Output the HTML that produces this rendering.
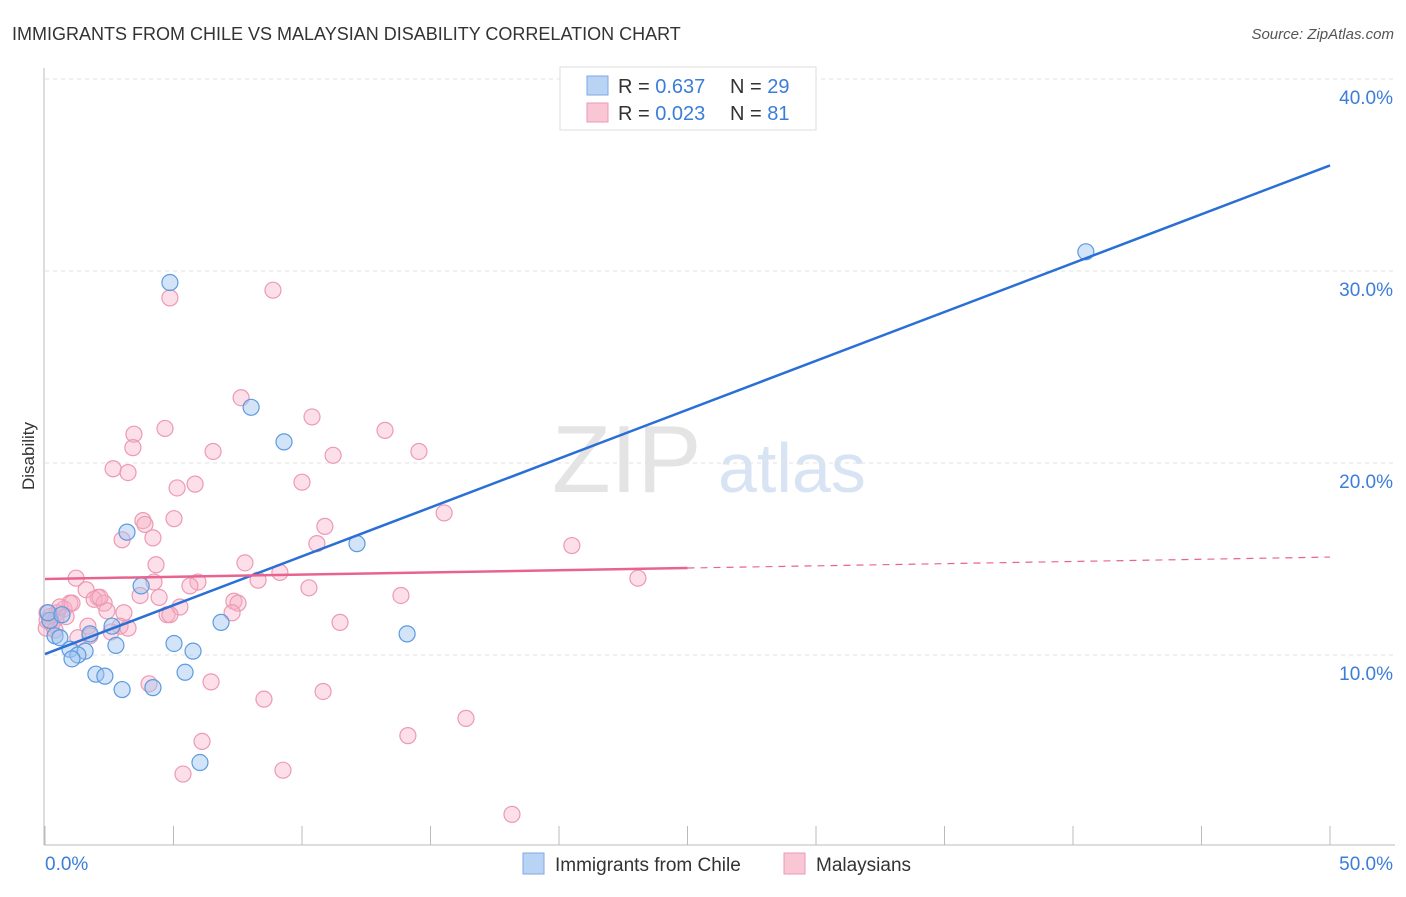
<!DOCTYPE html>
<html><head><meta charset="utf-8"><style>
body{margin:0;background:#fff;font-family:"Liberation Sans",sans-serif;}
svg text{font-family:"Liberation Sans",sans-serif;}
</style></head><body>
<svg id="chart" width="1406" height="892" xmlns="http://www.w3.org/2000/svg">
<text x="12" y="40" font-size="18" fill="#333">IMMIGRANTS FROM CHILE VS MALAYSIAN DISABILITY CORRELATION CHART</text>
<text x="1394" y="39" font-size="15" fill="#555" text-anchor="end" font-style="italic">Source: ZipAtlas.com</text>
<text x="34" y="456" font-size="17" fill="#333" text-anchor="middle" transform="rotate(-90 34 456)">Disability</text>
<g>
<text x="552" y="492" font-size="96" fill="#e4e4e4" font-family="Liberation Serif,serif">ZIP</text>
<text x="718" y="492" font-size="70" fill="#d8e4f4">atlas</text>
</g>
<g id="grid"></g><g id="axes"></g><g id="marks"></g>
<g>
<rect x="560" y="67" width="256" height="63" fill="#fff" stroke="#ddd"/>
<rect x="587" y="76" width="21" height="19" fill="#b9d3f5" stroke="#7aa9e6"/>
<rect x="587" y="103" width="21" height="19" fill="#f9c6d5" stroke="#ec9ab4"/>
<text x="618" y="93" font-size="20" fill="#333">R = <tspan fill="#3b7dd8">0.637</tspan></text>
<text x="730" y="93" font-size="20" fill="#333">N = <tspan fill="#3b7dd8">29</tspan></text>
<text x="618" y="120" font-size="20" fill="#333">R = <tspan fill="#3b7dd8">0.023</tspan></text>
<text x="730" y="120" font-size="20" fill="#333">N = <tspan fill="#3b7dd8"> 81</tspan></text>
</g>
<g>
<rect x="523" y="853" width="21" height="21" fill="#b9d3f5" stroke="#7aa9e6"/>
<text x="555" y="871" font-size="19" fill="#333">Immigrants from Chile</text>
<rect x="784" y="853" width="21" height="21" fill="#f9c6d5" stroke="#ec9ab4"/>
<text x="816" y="871" font-size="19" fill="#333">Malaysians</text>
</g>
</svg>
<script>
const blueX=[4.86,8.02,9.30,3.19,12.14,3.74,6.85,2.61,14.09,1.75,0.39,0.58,2.76,5.02,5.76,0.97,1.56,1.28,1.05,1.98,2.33,5.45,3.00,4.20,6.03,40.5,0.19,0.12,0.66];
const blueY=[29.4,22.9,21.1,16.4,15.8,13.6,11.7,11.5,11.1,11.1,11.0,10.9,10.5,10.6,10.2,10.3,10.2,10.0,9.8,9.0,8.9,9.1,8.2,8.3,4.4,31.0,11.8,12.2,12.1];
const pinkX=[4.86,8.87,7.63,10.39,4.67,3.46,13.23,3.42,6.54,14.55,11.21,2.65,3.23,5.14,5.84,10.0,5.02,3.81,3.89,15.53,10.89,3.0,4.2,10.58,20.5,7.78,4.32,9.14,1.21,8.29,23.07,5.95,4.24,5.64,10.27,1.6,3.7,13.85,4.44,2.06,0.97,1.91,2.3,7.35,7.51,5.25,0.74,3.07,4.75,2.41,0.47,4.86,7.28,0.19,0.43,1.67,2.92,11.48,3.23,1.28,4.05,6.46,10.82,8.52,16.38,6.11,14.12,5.37,9.26,18.17,0.58,0.82,0.27,0.05,0.08,0.39,1.05,2.57,1.75,2.14,0.08];
const pinkY=[28.6,29.0,23.4,22.4,21.8,21.5,21.7,20.8,20.6,20.6,20.4,19.7,19.5,18.7,18.9,19.0,17.1,17.0,16.8,17.4,16.7,16.0,16.1,15.8,15.7,14.8,14.7,14.3,14.0,13.9,14.0,13.8,13.8,13.6,13.5,13.4,13.1,13.1,13.0,13.0,12.7,12.9,12.7,12.8,12.7,12.5,12.4,12.2,12.1,12.3,12.2,12.1,12.2,12.0,11.9,11.5,11.5,11.7,11.4,10.9,8.5,8.6,8.1,7.7,6.7,5.5,5.8,3.8,4.0,1.7,12.5,12.0,11.6,11.4,11.8,11.3,12.7,11.2,11.0,13.0,12.2];
const blueTrend=[10.05,35.5];
const pinkTrend=[13.96,14.53,15.1];
const yTicks=[10,20,30,40];
const yTickLabels=["10.0%","20.0%","30.0%","40.0%"];
const xTickLabels=["0.0%","50.0%"];

const NS="http://www.w3.org/2000/svg";
const sx=v=>45+v*25.7;
const sy=v=>847-v*19.2;
function mk(tag,attrs,parent){const e=document.createElementNS(NS,tag);for(const k in attrs)e.setAttribute(k,attrs[k]);parent.appendChild(e);return e;}
const grid=document.getElementById('grid'),axes=document.getElementById('axes'),marks=document.getElementById('marks');
yTicks.forEach((t,i)=>{
 const l=mk('line',{x1:45,x2:1395,y1:sy(t),y2:sy(t),stroke:'#e2e2e2','stroke-dasharray':'4,4'},grid);
 
 
 const tx=mk('text',{x:1393,y:sy(t)+25,'font-size':19,fill:'#3b7dd8','text-anchor':'end'},axes);
 tx.textContent=yTickLabels[i];
 
 
});
let a=mk('line',{x1:44,x2:44,y1:68,y2:845,stroke:'#bbb'},axes);


a=mk('line',{x1:44,x2:1395,y1:845,y2:845,stroke:'#bbb'},axes);


for(let i=0;i<=10;i++){
 const t=mk('line',{x1:sx(i*5),x2:sx(i*5),y1:826,y2:845,stroke:'#bbb'},axes);
 
 
}
let xl=mk('text',{x:45,y:870,'font-size':19,fill:'#3b7dd8'},axes);xl.textContent=xTickLabels[0];


xl=mk('text',{x:1393,y:870,'font-size':19,fill:'#3b7dd8','text-anchor':'end'},axes);xl.textContent=xTickLabels[1];



pinkX.forEach((x,i)=>{
 const c=mk('circle',{cx:sx(x),cy:sy(pinkY[i]),r:8,fill:'rgba(248,175,198,0.4)',stroke:'#ec9ab4','stroke-width':1.2},marks);
 
 
});
blueX.forEach((x,i)=>{
 const c=mk('circle',{cx:sx(x),cy:sy(blueY[i]),r:8,fill:'rgba(160,196,240,0.45)',stroke:'#5b9be0','stroke-width':1.2},marks);
 
 
});
let tl=mk('line',{x1:sx(0),y1:sy(blueTrend[0]),x2:sx(50),y2:sy(blueTrend[1]),stroke:'#2a6fd6','stroke-width':2.5},marks);


tl=mk('line',{x1:sx(0),y1:sy(pinkTrend[0]),x2:sx(25),y2:sy(pinkTrend[1]),stroke:'#e8648e','stroke-width':2.5},marks);


tl=mk('line',{x1:sx(25),y1:sy(pinkTrend[1]),x2:sx(50),y2:sy(pinkTrend[2]),stroke:'#e8648e','stroke-width':1.2,'stroke-dasharray':'7,6'},marks);


</script>
</body></html>
